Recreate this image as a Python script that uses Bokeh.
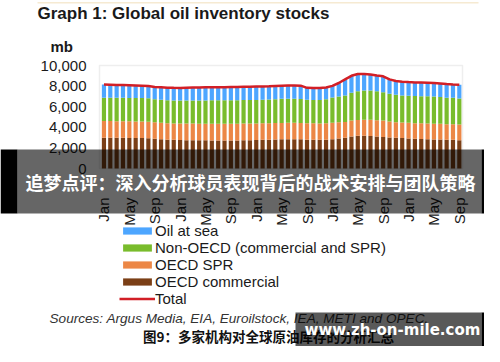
import math
from bokeh.plotting import figure
from bokeh.models import (ColumnDataSource, FixedTicker, NumeralTickFormatter, Legend,
                          LegendItem, Label, BoxAnnotation, Range1d)
from bokeh.embed import file_html
from bokeh.resources import INLINE

# ---------------- data (mb), Jan 2017 .. Sep 2021 ----------------
month_names = ["Jan", "Feb", "Mar", "Apr", "May", "Jun", "Jul", "Aug", "Sep", "Oct", "Nov", "Dec"]
months = [month_names[i % 12] for i in range(57)]
tick_months = ["Jan", "May", "Sep"]

oecd_commercial = [2990, 2990, 2980, 2980, 2970, 2960, 2950, 2930,
                   2880, 2840, 2800, 2780, 2760, 2750, 2750, 2740, 2740, 2730, 2730, 2720,
                   2720, 2730, 2740, 2750, 2760, 2780, 2800, 2820,
                   2840, 2850, 2850, 2840,
                   2800, 2790, 2780, 2790,
                   2840, 2910, 2980,
                   3100, 3170, 3170, 3160, 3100, 3070, 3010, 2980, 2950, 2910, 2880, 2870,
                   2850, 2820, 2810, 2790, 2780, 2750]
oecd_spr = [1610, 1610, 1610, 1610, 1610, 1610, 1610, 1600,
            1600, 1600, 1600, 1600, 1610, 1610, 1610, 1610, 1610, 1620, 1620, 1620,
            1620, 1620, 1620, 1620, 1620, 1610, 1600, 1590,
            1580, 1580, 1580, 1580,
            1600, 1600, 1600, 1610,
            1600, 1570, 1540,
            1560, 1550, 1555, 1565, 1590, 1590, 1550, 1520, 1520, 1520, 1520, 1530,
            1520, 1520, 1530, 1510, 1510, 1520]
non_oecd = [2260, 2260, 2270, 2270, 2270, 2280, 2280, 2290,
            2240, 2240, 2220, 2220, 2230, 2240, 2240, 2260, 2260, 2270, 2270, 2280,
            2280, 2280, 2280, 2280, 2280, 2290, 2300, 2320,
            2340, 2340, 2340, 2330,
            2280, 2270, 2280, 2320,
            2460, 2520, 2570,
            2690, 2790, 2845, 2845, 2820, 2750, 2690, 2650, 2620, 2630, 2650,
            2620, 2650, 2650, 2590, 2560, 2570, 2530]
oil_at_sea = [1290, 1270, 1250, 1240, 1230, 1210, 1190, 1180,
              1190, 1200, 1230, 1230, 1220, 1240, 1260, 1260, 1270, 1270, 1280, 1280,
              1290, 1290, 1290, 1290, 1290, 1280, 1280, 1280,
              1280, 1290, 1290, 1290,
              1150, 1150, 1150, 1150,
              1120, 1300, 1560,
              1650, 1670, 1610, 1550, 1510, 1540, 1400, 1350, 1340, 1330, 1310, 1320,
              1300, 1310, 1330, 1340, 1300, 1330]

y_ticks = [0, 2000, 4000, 6000, 8000, 10000]

series_names = ["OECD commercial", "OECD SPR", "Non-OECD (commercial and SPR)", "Oil at sea"]
colors = ["#7B3F16", "#EC8746", "#79BC2C", "#4DA6FF"]

idx = list(range(len(months)))
total = [a + b + c + d for a, b, c, d in zip(oecd_commercial, oecd_spr, non_oecd, oil_at_sea)]

src = ColumnDataSource(dict(x=idx, oc=oecd_commercial, spr=oecd_spr, non=non_oecd,
                            sea=oil_at_sea, total=total))

# ---------------- layout geometry (canvas pixels) ----------------
W, H = 484, 346
CH_L, CH_R, CH_T, CH_B = 99, 462, 65, 168        # chart area inside the canvas
X0, X1 = -0.7, len(months) - 0.5                  # chart x extent (data)
Y0, Y1 = 0, 10000
ppx = (CH_R - CH_L) / (X1 - X0)
ppy = (CH_B - CH_T) / (Y1 - Y0)
x_range = Range1d(X0 - CH_L / ppx, X1 + (W - CH_R) / ppx)
y_range = Range1d(Y0 - (H - CH_B) / ppy, Y1 + CH_T / ppy)

p = figure(width=W, height=H, output_backend="svg", toolbar_location=None,
           x_range=x_range, y_range=y_range,
           min_border_left=0, min_border_right=0, min_border_top=0, min_border_bottom=0)
p.background_fill_color = "white"
p.border_fill_color = "white"
p.outline_line_color = None
p.xgrid.visible = False
p.ygrid.visible = False

p.add_layout(BoxAnnotation(left=X0, right=X1, bottom=Y0, top=Y1, fill_alpha=0,
                           line_color="#c8c8c8", line_width=1.5, level="underlay"))

rs = p.vbar_stack(["oc", "spr", "non", "sea"], x="x", width=0.66, color=colors,
                  line_color=None, source=src)
rl = p.line("x", "total", source=src, color="#D21F26", line_width=2.5)

# axes (fixed at the chart edges)
ax = p.yaxis[0]
ax.fixed_location = X0
ax.ticker = FixedTicker(ticks=y_ticks)
ax.formatter = NumeralTickFormatter(format="0,0")
ax.axis_line_color = None
ax.major_tick_line_color = None
ax.minor_tick_line_color = None
ax.major_tick_out = 0
ax.major_tick_in = 0
ax.major_label_standoff = 13
ax.major_label_text_font = "Liberation Sans"
ax.major_label_text_font_size = "15px"
ax.major_label_text_color = "#1a1a1a"

xa = p.xaxis[0]
xa.fixed_location = Y0
tick_idx = [i for i, m in enumerate(months) if m in tick_months]
xa.ticker = FixedTicker(ticks=tick_idx)
xa.major_label_overrides = {i: months[i] for i in tick_idx}
xa.major_label_orientation = math.pi / 2
xa.axis_line_color = None
xa.major_tick_line_color = None
xa.minor_tick_line_color = None
xa.major_tick_out = 0
xa.major_tick_in = 0
xa.major_label_standoff = 29
xa.major_label_text_font = "Liberation Sans"
xa.major_label_text_font_size = "15px"
xa.major_label_text_color = "#1a1a1a"

# legend
items = [LegendItem(label=series_names[3], renderers=[rs[3]]),
         LegendItem(label=series_names[2], renderers=[rs[2]]),
         LegendItem(label=series_names[1], renderers=[rs[1]]),
         LegendItem(label=series_names[0], renderers=[rs[0]]),
         LegendItem(label="Total", renderers=[rl])]
leg = Legend(items=items, location=(119, H - 307), orientation="vertical",
             glyph_width=36, glyph_height=9, label_standoff=0, padding=0, margin=0,
             spacing=0, label_height=15, label_text_line_height=1.0,
             label_text_font="Liberation Sans",
             label_text_font_size="15px", label_text_color="#1a1a1a",
             background_fill_alpha=0, border_line_alpha=0)
p.add_layout(leg)

def lab(text, x, y, size, style="normal", color="#1a1a1a", font="Liberation Sans",
        align="left"):
    p.add_layout(Label(x=x, y=H - y, x_units="screen", y_units="screen", text=text,
                       text_font=font, text_font_size=size, text_font_style=style,
                       text_color=color, text_align=align, text_baseline="middle"))

def box(l, r, t, b, color="black", alpha=1.0):
    p.add_layout(BoxAnnotation(left=l, right=r, top=H - t, bottom=H - b, left_units="screen",
                               right_units="screen", top_units="screen",
                               bottom_units="screen", fill_color=color, fill_alpha=alpha,
                               line_color=None))

box(37, 478, 1.5, 3, "#f6ead2")
lab("Graph 1: Global oil inventory stocks", 37, 12.5, "17px", "bold")
lab("mb", 50, 46, "15px", "bold")
lab("Sources: Argus Media, EIA, Euroilstock, IEA, METI and OPEC.", 49, 318, "13.6px",
    "italic", "#333333")
lab("图9：多家机构对全球原油库存的分析汇总", 268, 335, "13.5px", "bold", "#111111",
    "Noto Sans CJK SC", "center")

# overlay banner
box(0, 17, 149, 213)
box(481, 500, 149, 213)
box(17, 481, 149, 213, alpha=0.6)
lab("追梦点评：深入分析球员表现背后的战术安排与团队策略", 250, 181, "18px", "bold", "white",
    "Noto Sans CJK SC", "center")

# watermark
box(295, 481, 312, 346, alpha=0.65)
box(481, 491, 312, 346)
lab("www.zh-on-mile.com", 392, 329, "15px", "bold", "white", "DejaVu Sans", "center")

open("out.html", "w").write(file_html(p, INLINE))
